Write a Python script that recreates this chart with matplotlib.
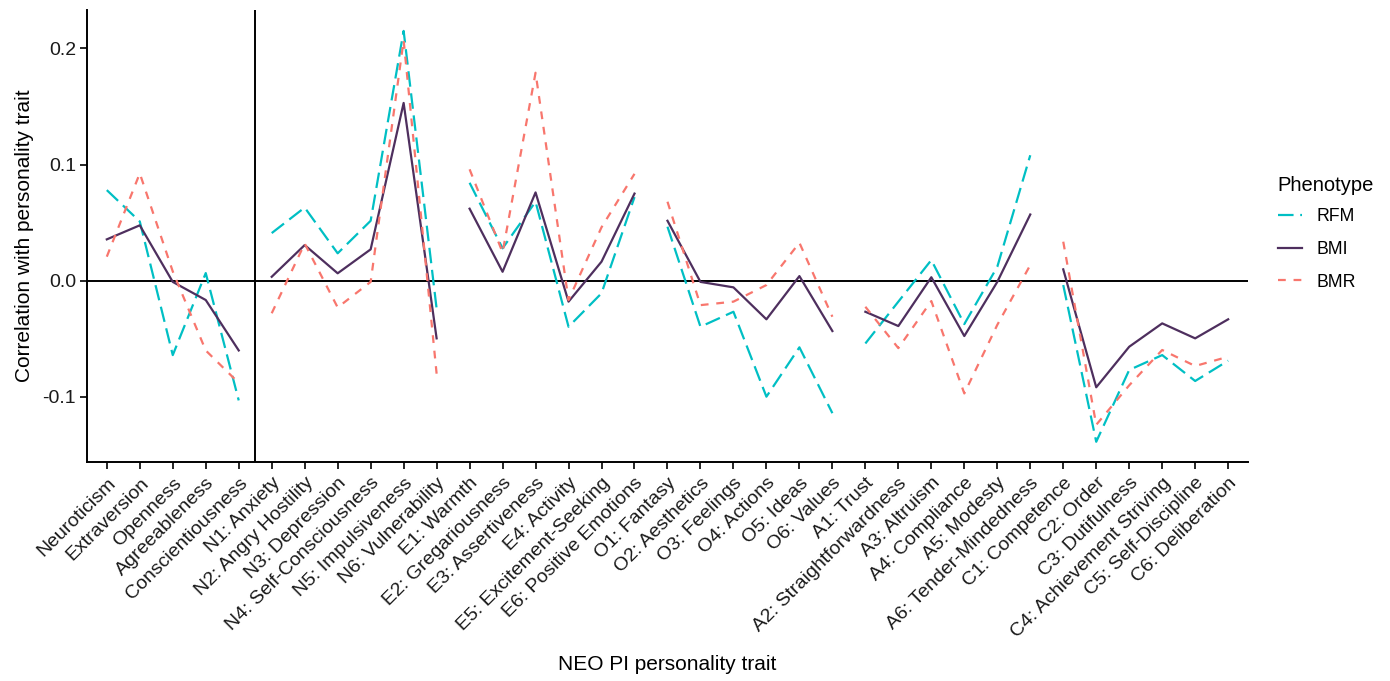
import matplotlib
matplotlib.use("Agg")
import matplotlib.pyplot as plt
import numpy as np

plt.rcParams['font.family'] = ['Liberation Sans', 'DejaVu Sans']

traits = ["Neuroticism", "Extraversion", "Openness", "Agreeableness", "Conscientiousness",
          "N1: Anxiety", "N2: Angry Hostility", "N3: Depression", "N4: Self-Consciousness",
          "N5: Impulsiveness", "N6: Vulnerability",
          "E1: Warmth", "E2: Gregariousness", "E3: Assertiveness", "E4: Activity",
          "E5: Excitement-Seeking", "E6: Positive Emotions",
          "O1: Fantasy", "O2: Aesthetics", "O3: Feelings", "O4: Actions", "O5: Ideas", "O6: Values",
          "A1: Trust", "A2: Straightforwardness", "A3: Altruism", "A4: Compliance",
          "A5: Modesty", "A6: Tender-Mindedness",
          "C1: Competence", "C2: Order", "C3: Dutifulness", "C4: Achievement Striving",
          "C5: Self-Discipline", "C6: Deliberation"]

groups = [5, 6, 6, 6, 6, 6]

rfm = [0.078, 0.051, -0.064, 0.0066, -0.103,
       0.041, 0.063, 0.0236, 0.0516, 0.215, -0.024,
       0.0843, 0.0279, 0.068, -0.0396, -0.0108, 0.072,
       0.0465, -0.0396, -0.0267, -0.0998, -0.0573, -0.114,
       -0.054, -0.018, 0.0178, -0.0373, 0.012, 0.108,
       -0.0037, -0.1386, -0.0768, -0.064, -0.0863, -0.0688]

bmi = [0.0356, 0.0477, -0.001, -0.0166, -0.060,
       0.0034, 0.0307, 0.0064, 0.027, 0.153, -0.0496,
       0.062, 0.0077, 0.076, -0.018, 0.0164, 0.075,
       0.0516, -0.001, -0.0057, -0.0332, 0.004, -0.0433,
       -0.0267, -0.039, 0.003, -0.0476, -0.001, 0.057,
       0.0098, -0.0917, -0.0568, -0.0367, -0.0496, -0.0332]

bmr = [0.0207, 0.0924, 0.008, -0.060, -0.088,
       -0.028, 0.032, -0.023, -0.001, 0.207, -0.080,
       0.0959, 0.0244, 0.179, -0.0166, 0.046, 0.092,
       0.068, -0.021, -0.018, -0.0037, 0.0327, -0.031,
       -0.0224, -0.058, -0.0175, -0.097, -0.038, 0.0135,
       0.0336, -0.124, -0.090, -0.0596, -0.0734, -0.0654]

series = [
    ("RFM", rfm, "#00BFC4", (0, (7, 3))),
    ("BMI", bmi, "#4E2F5E", "solid"),
    ("BMR", bmr, "#F8766D", (0, (3.5, 3.5))),
]

fig = plt.figure(figsize=(13.9, 6.81), dpi=100)
ax = fig.add_axes([0.0626, 0.3216, 0.8352, 0.6637])

x = np.arange(len(traits))
ax.axhline(0, color="black", lw=1.4, zorder=1)
ax.axvline(4.5, color="black", lw=1.4, zorder=1)

bounds = np.cumsum([0] + groups)
for name, vals, col, ls in series:
    vals = np.array(vals)
    for gi in range(len(groups)):
        s, e = bounds[gi], bounds[gi + 1]
        ax.plot(x[s:e], vals[s:e], color=col, ls=ls, lw=1.6, zorder=3,
                label=name if gi == 0 else None)

ax.set_xlim(-0.6, len(traits) - 0.4)
ax.set_ylim(-0.156, 0.233)
ax.set_xticks(x)
ax.set_xticklabels(traits, rotation=45, ha="right", rotation_mode="anchor")
ax.set_yticks([-0.1, 0.0, 0.1, 0.2])
ax.set_yticklabels(["-0.1", "0.0", "0.1", "0.2"])
ax.tick_params(axis="both", labelsize=14, colors="black", length=5, width=1.2, labelcolor="#1a1a1a")
ax.tick_params(axis="x", pad=4)
ax.tick_params(axis="y", pad=3)

for sp in ["top", "right"]:
    ax.spines[sp].set_visible(False)
for sp in ["left", "bottom"]:
    ax.spines[sp].set_linewidth(1.4)

ax.set_xlabel("NEO PI personality trait", fontsize=15, labelpad=10)
ax.set_ylabel("Correlation with personality trait", fontsize=15, labelpad=6)

leg = ax.legend(title="Phenotype", loc="upper left", bbox_to_anchor=(1.012, 0.667),
                frameon=False, fontsize=12.7, title_fontsize=14.5,
                handlelength=1.4, handletextpad=0.8, labelspacing=0.9, alignment="left")
leg._legend_box.sep = 9

fig.savefig("out.png", dpi=100)
